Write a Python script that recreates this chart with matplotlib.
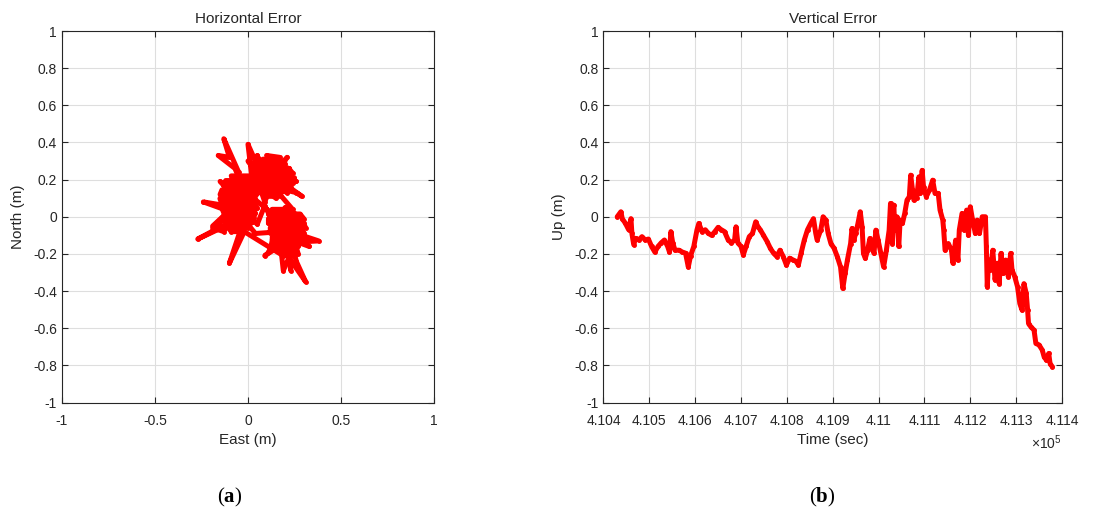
import matplotlib.pyplot as plt

plt.rcParams['font.family'] = ['Liberation Sans', 'DejaVu Sans']
plt.rcParams['mathtext.fontset'] = 'custom'
plt.rcParams['mathtext.rm'] = 'Liberation Sans'
plt.rcParams['mathtext.bf'] = 'Liberation Serif:bold'

# horizontal position error (m) - wandering part with the long excursions
east_m = [-0.02, -0.10, -0.03, -0.12, -0.01, -0.08, 0.02, -0.11, -0.04, -0.06,
          0.03, -0.13, -0.24, -0.12, -0.05, -0.07, 0.00, -0.10, -0.27, -0.14,
          -0.03, -0.09, 0.04, -0.06, -0.11, -0.02, -0.10, -0.04, -0.08, -0.05,
          -0.13, -0.10, -0.16, -0.07, -0.02, -0.09, 0.01, -0.12, -0.15, -0.04,
          -0.13, -0.19, -0.07, 0.05, 0.14, 0.08, 0.20, 0.06, 0.17, 0.10,
          0.22, 0.04, 0.15, 0.19, 0.08, 0.24, 0.12, 0.02, 0.00, 0.04,
          0.13, 0.26, 0.29, 0.18, 0.10, 0.17, 0.21, 0.07, 0.14, 0.09,
          0.03, 0.00, 0.11, 0.16, 0.06, 0.20, 0.12, 0.05, 0.10, 0.03,
          0.15, 0.25, 0.12, 0.28, 0.16, 0.22, 0.30, 0.14, 0.24, 0.19,
          0.27, 0.11, 0.20, 0.38, 0.26, 0.18, 0.19, 0.22, 0.31, 0.26,
          0.23, 0.09, 0.15, 0.29, 0.17, 0.25, 0.13, 0.21, 0.28, 0.16,
          0.12, 0.24, 0.18, 0.27, 0.20, 0.14, 0.09, 0.05, -0.05, -0.09,
          -0.01, 0.02, -0.11, -0.03, 0.06, 0.13, 0.19, 0.23, 0.15, 0.08]
north_m = [0.05, 0.12, 0.02, 0.00, 0.10, -0.05, 0.04, 0.08, 0.16, -0.02,
           0.12, 0.04, 0.08, 0.06, 0.20, 0.03, -0.06, -0.04, -0.12, -0.05,
           -0.02, 0.10, 0.07, 0.13, -0.01, -0.08, -0.25, -0.07, 0.18, 0.24,
           0.42, 0.32, 0.33, 0.26, 0.14, 0.02, 0.00, 0.13, 0.10, 0.09,
           -0.08, -0.06, 0.07, 0.15, 0.28, 0.12, 0.22, 0.24, 0.14, 0.30,
           0.26, 0.18, 0.10, 0.30, 0.20, 0.18, 0.26, 0.22, 0.39, 0.30,
           0.16, 0.13, 0.11, 0.19, 0.33, 0.32, 0.13, 0.27, 0.20, 0.08,
           0.26, 0.30, 0.22, 0.26, 0.16, 0.17, 0.12, 0.33, 0.18, 0.10,
           0.00, -0.12, -0.06, -0.02, -0.15, 0.04, -0.10, -0.10, -0.18, 0.01,
           -0.06, -0.02, -0.14, -0.13, -0.09, -0.20, -0.29, -0.22, -0.35, -0.24,
           -0.12, -0.21, -0.16, -0.04, -0.07, 0.02, -0.12, -0.05, -0.14, 0.03,
           -0.18, -0.08, -0.12, -0.20, 0.05, -0.04, 0.06, -0.04, 0.05, 0.15,
           0.20, -0.03, 0.04, 0.11, 0.19, 0.24, 0.20, 0.24, 0.15, 0.23]

# dense back-and-forth part inside the three clusters, then short excursions
east_dense = [-0.09, 0.05, 0.07, -0.12, -0.13, 0.07, 0.06, -0.14, -0.15, 0.03,
              0.04, -0.15, -0.14, 0.04, 0.05, -0.14, -0.13, 0.04, 0.03, -0.13,
              -0.12, 0.02, 0.00, -0.11, -0.09, -0.02,
              0.19, 0.24, 0.25, 0.17, 0.15, 0.27, 0.28, 0.14, 0.13, 0.30,
              0.30, 0.12, 0.12, 0.31, 0.30, 0.11, 0.11, 0.30, 0.28, 0.11,
              0.13, 0.24,
              0.18, 0.09, 0.07, 0.21, 0.23, 0.05, 0.04, 0.24, 0.25, 0.03,
              0.02, 0.24, 0.22, 0.02, 0.03, 0.20, 0.16, 0.08,
              0.12, 0.21, 0.14, 0.26, 0.15, 0.06, 0.08, 0.05, 0.07, -0.03,
              -0.15, -0.05, -0.19, -0.05, 0.04, 0.18, 0.11, 0.20, 0.23, 0.22,
              0.33, 0.20]
north_dense = [0.22, 0.22, 0.195, 0.195, 0.17, 0.17, 0.145, 0.145, 0.12, 0.12,
               0.095, 0.095, 0.07, 0.07, 0.045, 0.045, 0.02, 0.02, -0.005, -0.005,
               -0.03, -0.03, -0.055, -0.055, -0.08, -0.08,
               -0.21, -0.21, -0.185, -0.185, -0.16, -0.16, -0.135, -0.135, -0.11, -0.11,
               -0.085, -0.085, -0.06, -0.06, -0.035, -0.035, -0.01, -0.01, 0.015, 0.015,
               0.04, 0.04,
               0.11, 0.11, 0.135, 0.135, 0.16, 0.16, 0.185, 0.185, 0.21, 0.21,
               0.235, 0.235, 0.26, 0.26, 0.285, 0.285, 0.31, 0.31,
               0.22, 0.32, 0.20, 0.19, 0.18, 0.20, 0.17, 0.22, 0.14, 0.10,
               0.19, 0.08, -0.05, 0.02, -0.09, -0.08, -0.19, -0.10, -0.29, -0.12,
               -0.16, -0.05]

# vertical error over GPS time of week
time_sec = [410430, 410438, 410441, 410448, 410455, 410460, 410462, 410466, 410470, 410477,
            410484, 410491, 410498, 410505, 410512, 410519, 410526, 410533, 410540, 410544,
            410547, 410551, 410556, 410565, 410572, 410579, 410585, 410590, 410597, 410604,
            410608, 410615, 410622, 410629, 410636, 410643, 410650, 410657, 410664, 410672,
            410679, 410686, 410689, 410693, 410700, 410705, 410711, 410718, 410725, 410732,
            410737, 410742, 410749, 410757, 410764, 410771, 410778, 410785, 410792, 410799,
            410806, 410813, 410820, 410825, 410831, 410838, 410845, 410852, 410858, 410863,
            410866, 410874, 410879, 410885, 410890, 410896, 410903, 410910, 410917, 410922,
            410927, 410932, 410939, 410942, 410946, 410950, 410955, 410960, 410964, 410967,
            410971, 410976, 410981, 410985, 410990, 410994, 410999, 411005, 411011, 411017,
            411023, 411026, 411030, 411033, 411036, 411040, 411044, 411047, 411052, 411057,
            411062, 411067, 411070, 411074, 411077, 411083, 411088, 411091, 411095, 411098,
            411104, 411111, 411118, 411123, 411130, 411134, 411140, 411142, 411145, 411152,
            411159, 411162, 411168, 411173, 411176, 411182, 411187, 411192, 411196, 411200,
            411205, 411211, 411215, 411220, 411226, 411233, 411235, 411237, 411240, 411244,
            411249, 411254, 411259, 411263, 411267, 411272, 411277, 411283, 411288, 411291,
            411297, 411303, 411308, 411313, 411317, 411322, 411325, 411327, 411332, 411339,
            411343, 411350, 411357, 411361, 411366, 411371, 411374, 411379]
up_m = [0.00, 0.027, -0.01, -0.036, -0.07, -0.01, -0.09, -0.15, -0.116, -0.125,
        -0.107, -0.125, -0.12, -0.16, -0.19, -0.16, -0.14, -0.125, -0.16, -0.19,
        -0.08, -0.14, -0.18, -0.18, -0.19, -0.196, -0.27, -0.21, -0.16, -0.07,
        -0.036, -0.08, -0.07, -0.09, -0.10, -0.08, -0.057, -0.07, -0.08, -0.125,
        -0.14, -0.125, -0.054, -0.14, -0.16, -0.205, -0.16, -0.107, -0.09, -0.027,
        -0.054, -0.07, -0.10, -0.134, -0.17, -0.196, -0.214, -0.18, -0.214, -0.26,
        -0.223, -0.232, -0.24, -0.26, -0.196, -0.125, -0.07, -0.036, -0.01, -0.09,
        -0.125, -0.07, 0.00, -0.018, -0.09, -0.144, -0.17, -0.215, -0.27, -0.386,
        -0.305, -0.233, -0.144, -0.063, -0.126, -0.09, -0.036, 0.027, -0.054, -0.197,
        -0.224, -0.18, -0.117, -0.16, -0.197, -0.072, -0.126, -0.197, -0.27, -0.18,
        -0.072, 0.072, -0.144, 0.063, -0.072, 0.00, -0.16, -0.018, -0.036, 0.018,
        0.09, 0.108, 0.224, 0.144, 0.09, 0.10, 0.215, 0.126, 0.25, 0.16,
        0.108, 0.144, 0.197, 0.126, 0.126, 0.036, -0.018, -0.072, -0.18, -0.144,
        -0.18, -0.25, -0.126, -0.233, -0.072, 0.018, -0.072, 0.036, -0.10, 0.054,
        -0.018, -0.09, -0.018, -0.09, 0.00, 0.00, -0.16, -0.377, -0.233, -0.287,
        -0.18, -0.34, -0.25, -0.36, -0.197, -0.305, -0.233, -0.323, -0.197, -0.287,
        -0.323, -0.377, -0.467, -0.503, -0.36, -0.413, -0.503, -0.575, -0.592, -0.61,
        -0.682, -0.69, -0.718, -0.754, -0.772, -0.736, -0.79, -0.808]

y_ticks = [-1, -0.8, -0.6, -0.4, -0.2, 0, 0.2, 0.4, 0.6, 0.8, 1]
y_labels = ['-1', '-0.8', '-0.6', '-0.4', '-0.2', '0', '0.2', '0.4', '0.6', '0.8', '1']
east_ticks = [-1, -0.5, 0, 0.5, 1]
east_labels = ['-1', '-0.5', '0', '0.5', '1']
time_ticks = [410400, 410500, 410600, 410700, 410800, 410900,
              411000, 411100, 411200, 411300, 411400]
time_labels = ['4.104', '4.105', '4.106', '4.107', '4.108', '4.109',
               '4.11', '4.111', '4.112', '4.113', '4.114']

ink = '#262626'
fig = plt.figure(figsize=(10.97, 5.15), dpi=100)
ax1 = fig.add_axes([0.0565, 0.2184, 0.3391, 0.7214])
ax2 = fig.add_axes([0.5501, 0.2184, 0.4180, 0.7214])


def style(ax):
    ax.grid(True, color='#dedede', linewidth=0.8)
    ax.set_axisbelow(True)
    for sp in ax.spines.values():
        sp.set_color(ink)
        sp.set_linewidth(0.8)
    ax.tick_params(direction='in', length=4, width=0.8, colors=ink,
                   labelsize=10, top=True, right=True)
    ax.tick_params(axis='x', pad=8)
    ax.set_yticks(y_ticks)
    ax.set_yticklabels(y_labels)
    ax.set_ylim(-1, 1)


line_kw = dict(color='red', linewidth=3.6, marker='.', markersize=5,
               solid_joinstyle='round', solid_capstyle='round')
ax1.plot(east_dense, north_dense, '-', **line_kw)
ax1.plot(east_m, north_m, '-', **line_kw)
style(ax1)
ax1.set_xlim(-1, 1)
ax1.set_xticks(east_ticks)
ax1.set_xticklabels(east_labels)
ax1.set_xlabel('East (m)', fontsize=11, color=ink, labelpad=4)
ax1.set_ylabel('North (m)', fontsize=11, color=ink, labelpad=6)
ax1.set_title('Horizontal Error', fontsize=11, color=ink, pad=6)

ax2.plot(time_sec, up_m, '-', **line_kw)
style(ax2)
ax2.set_xlim(410400, 411400)
ax2.set_xticks(time_ticks)
ax2.set_xticklabels(time_labels)
ax2.set_xlabel('Time (sec)', fontsize=11, color=ink, labelpad=4)
ax2.set_ylabel('Up (m)', fontsize=11, color=ink, labelpad=6)
ax2.set_title('Vertical Error', fontsize=11, color=ink, pad=6)
ax2.text(1.0, -0.108, r'$\times10^5$', transform=ax2.transAxes, ha='right',
         va='center', fontsize=10, color=ink)

fig.text(230 / 1097, 1 - 497 / 515, r'($\mathbf{a}$)', ha='center', va='center',
         fontsize=15, family='Liberation Serif')
fig.text(822 / 1097, 1 - 497 / 515, r'($\mathbf{b}$)', ha='center', va='center',
         fontsize=15, family='Liberation Serif')

fig.savefig('out.png', dpi=100)
